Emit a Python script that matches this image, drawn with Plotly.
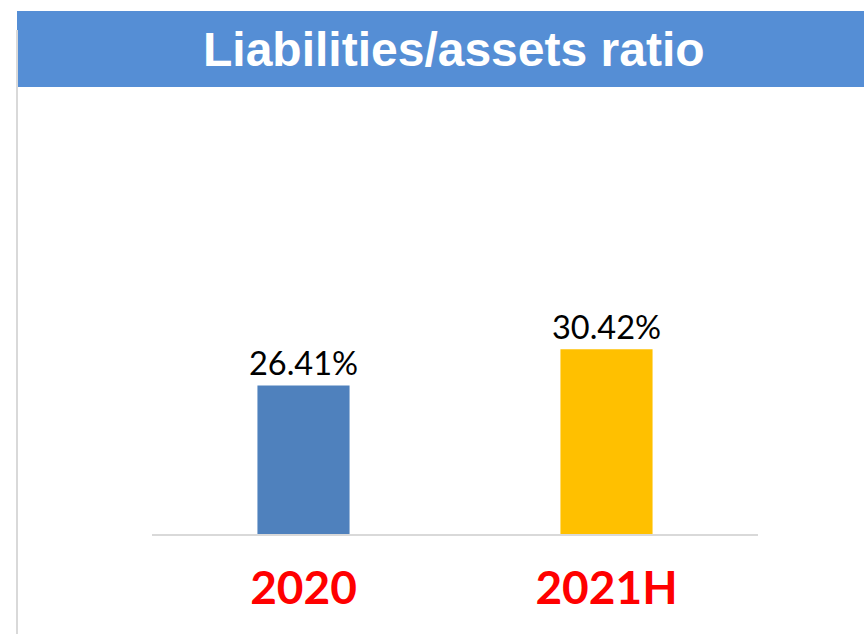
import plotly.graph_objects as go

categories = ["2020", "2021H"]
values = [26.41, 30.42]
labels = ["26.41%", "30.42%"]
colors = ["#4F81BD", "#FFC000"]
title_text = "Liabilities/assets ratio"

W, H = 864, 634

fig = go.Figure()
fig.add_trace(go.Bar(
    x=categories, y=values,
    marker=dict(color=colors, line=dict(width=0)),
    text=labels, textposition="outside", cliponaxis=False,
    constraintext="none",
    textfont=dict(family="Lato", size=32.5, color="#000000"),
    width=0.304,
    hoverinfo="skip",
))

x0, x1 = 152 / W, 758 / W
y_bot, y_top = 534, 172
fig.update_layout(
    width=W, height=H,
    margin=dict(l=0, r=0, t=0, b=0),
    paper_bgcolor="white", plot_bgcolor="white",
    showlegend=False,
    xaxis=dict(
        domain=[x0, x1], range=[-0.5, 1.5],
        showline=True, linecolor="#D9D9D9", linewidth=2,
        showgrid=False, zeroline=False, ticks="",
        tickfont=dict(family="Lato", size=46, color="#FF0000", weight="bold"),
        ticklabelstandoff=13,
    ),
    yaxis=dict(
        domain=[(H - y_bot) / H, (H - y_top) / H], range=[10, 50],
        visible=False, showgrid=False, zeroline=False,
    ),
    shapes=[
        dict(type="rect", xref="paper", yref="paper",
             x0=17 / W, x1=1, y0=1 - 87 / H, y1=1 - 11 / H,
             fillcolor="#558ED5", line=dict(width=0), layer="below"),
        dict(type="line", xref="paper", yref="paper",
             x0=17 / W, x1=17 / W, y0=0, y1=1 - 30 / H,
             line=dict(color="#D9D9D9", width=2), layer="below"),
    ],
    annotations=[
        dict(text=title_text, xref="paper", yref="paper",
             x=453.5 / W, y=1 - 50 / H, xanchor="center", yanchor="middle",
             showarrow=False,
             font=dict(family="Liberation Sans", size=48, color="white", weight="bold")),
    ],
)

fig.write_html("out.html", config={"displayModeBar": False},
               post_script="document.body.style.margin='0';")
